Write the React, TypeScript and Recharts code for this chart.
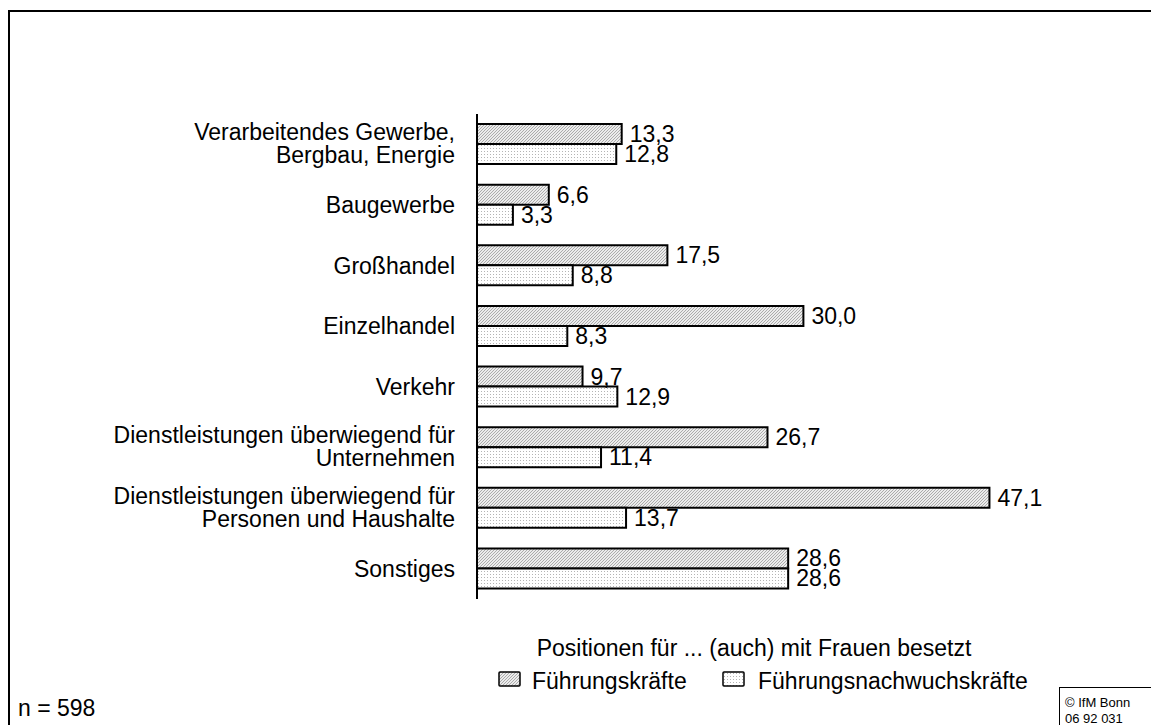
import React from "react";
import { BarChart, Bar, XAxis, YAxis, LabelList } from "recharts";

const categories = [
  "Verarbeitendes Gewerbe,\nBergbau, Energie",
  "Baugewerbe",
  "Großhandel",
  "Einzelhandel",
  "Verkehr",
  "Dienstleistungen überwiegend für\nUnternehmen",
  "Dienstleistungen überwiegend für\nPersonen und Haushalte",
  "Sonstiges",
];
const fuehrungskraefte = [13.3, 6.6, 17.5, 30.0, 9.7, 26.7, 47.1, 28.6];
const nachwuchskraefte = [12.8, 3.3, 8.8, 8.3, 12.9, 11.4, 13.7, 28.6];
const xDomain = [0, 50];

const legendTitle = "Positionen für ... (auch) mit Frauen besetzt";
const seriesNames = ["Führungskräfte", "Führungsnachwuchskräfte"];
const sampleNote = "n = 598";
const copyright = ["© IfM Bonn", "06 92 031"];

const FONT = "'Liberation Sans', Arial, sans-serif";

const data = categories.map((name, i) => ({
  name,
  f: fuehrungskraefte[i],
  n: nachwuchskraefte[i],
}));

function Patterns({ prefix }: { prefix: string }) {
  return (
    <defs>
      <pattern id={`${prefix}-hatch`} width="3" height="3" patternUnits="userSpaceOnUse">
        <rect width="3" height="3" fill="#ececec" />
        <path d="M0,3 L3,0 M-1,1 L1,-1 M2,4 L4,2" stroke="#9a9a9a" strokeWidth="0.8" />
      </pattern>
      <pattern id={`${prefix}-dots`} width="3" height="3" patternUnits="userSpaceOnUse">
        <rect width="3" height="3" fill="#ffffff" />
        <rect x="1" y="1" width="1" height="1" fill="#b4b4b4" />
      </pattern>
    </defs>
  );
}

const fmt = (v: number) => v.toFixed(1).replace(".", ",");

function ValueLabel(props: any) {
  const { x, y, width, height, value } = props;
  return (
    <text
      x={Number(x) + Number(width) + 8}
      y={Number(y) + Number(height) / 2 + 8}
      fontSize={23}
      fontFamily={FONT}
      fill="#000"
    >
      {fmt(Number(value))}
    </text>
  );
}

function CategoryTick(props: any) {
  const { y, payload } = props;
  const lines = String(payload.value).split("\n");
  const first = lines.length === 1 ? y + 8 : y - 4;
  return (
    <text x={455} y={first} textAnchor="end" fontSize={23} fontFamily={FONT} fill="#000">
      {lines.map((l, i) => (
        <tspan key={i} x={455} y={first + i * 23}>
          {l}
        </tspan>
      ))}
    </text>
  );
}

export default function App() {
  return (
    <div
      style={{
        position: "fixed",
        left: 0,
        top: 0,
        width: 1151,
        height: 725,
        overflow: "hidden",
        background: "#fff",
        fontFamily: FONT,
      }}
    >
      <div
        style={{
          position: "absolute",
          left: 8,
          top: 10,
          width: 1200,
          height: 800,
          borderLeft: "2px solid #000",
          borderTop: "2px solid #000",
        }}
      />
      <div style={{ position: "absolute", left: 0, top: 0 }}>
        <BarChart
          width={1151}
          height={725}
          data={data}
          layout="vertical"
          margin={{ top: 114, bottom: 126, left: 377, right: 130 }}
          barGap={0}
          barSize={20}
        >
          <Patterns prefix="c" />
          <XAxis type="number" domain={xDomain} hide />
          <YAxis
            type="category"
            dataKey="name"
            width={100}
            tickLine={false}
            axisLine={{ stroke: "#000", strokeWidth: 2 }}
            tick={<CategoryTick />}
            interval={0}
          />
          <Bar dataKey="f" fill="url(#c-hatch)" stroke="#000" strokeWidth={2} isAnimationActive={false}>
            <LabelList dataKey="f" content={<ValueLabel />} />
          </Bar>
          <Bar dataKey="n" fill="url(#c-dots)" stroke="#000" strokeWidth={2} isAnimationActive={false}>
            <LabelList dataKey="n" content={<ValueLabel />} />
          </Bar>
        </BarChart>
      </div>
      <svg
        width={1151}
        height={725}
        style={{ position: "absolute", left: 0, top: 0, pointerEvents: "none" }}
      >
        <Patterns prefix="l" />
        <text x={754} y={656} textAnchor="middle" fontSize={23} fontFamily={FONT}>
          {legendTitle}
        </text>
        <rect x={499} y={672} width={21} height={14} fill="url(#l-hatch)" stroke="#000" strokeWidth={1.5} rx={1} />
        <text x={532} y={689} fontSize={23} fontFamily={FONT}>
          {seriesNames[0]}
        </text>
        <rect x={723} y={672} width={21} height={14} fill="url(#l-dots)" stroke="#000" strokeWidth={1.5} rx={1} />
        <text x={758} y={689} fontSize={23} fontFamily={FONT}>
          {seriesNames[1]}
        </text>
        <text x={18} y={716} fontSize={23} fontFamily={FONT}>
          {sampleNote}
        </text>
        <rect x={1059.5} y={687.5} width={100} height={60} fill="#fff" stroke="#000" strokeWidth={1} />
        <text x={1065} y={707} fontSize={13} fontFamily={FONT}>
          {copyright[0]}
        </text>
        <text x={1065} y={723} fontSize={13} fontFamily={FONT}>
          {copyright[1]}
        </text>
      </svg>
    </div>
  );
}
